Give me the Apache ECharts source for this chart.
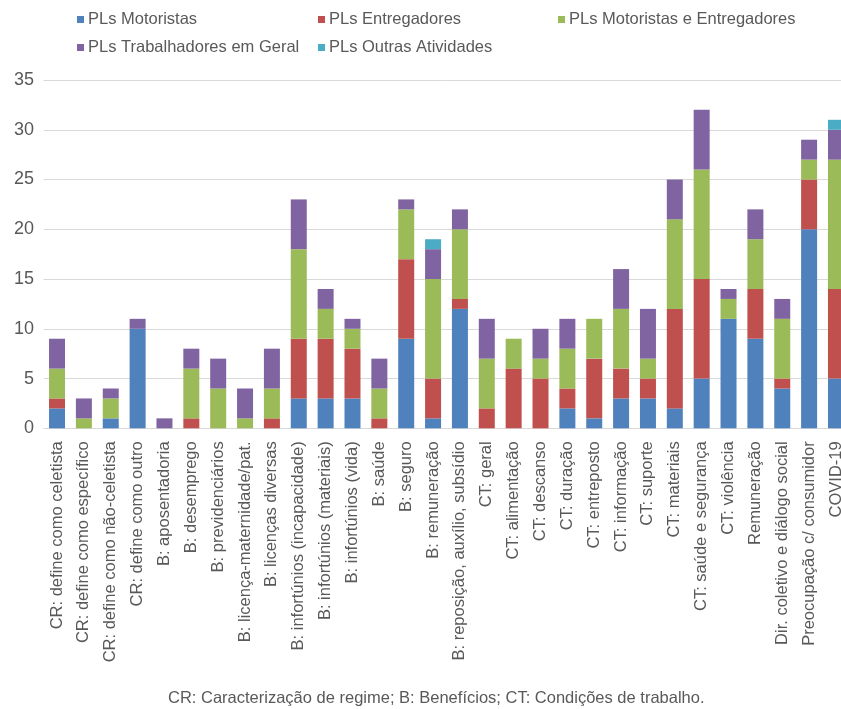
<!DOCTYPE html>
<html>
<head>
<meta charset="utf-8">
<script src="https://cdn.jsdelivr.net/npm/echarts@6/dist/echarts.min.js"></script>
<style>
html,body{margin:0;padding:0;background:#fff;}
#c{width:841px;height:709px;}
</style>
</head>
<body>
<div id="c"></div>
<script>
const categories = [
  "CR: define como celetista","CR: define como específico","CR: define como não-celetista","CR: define como outro",
  "B: aposentadoria","B: desemprego","B: previdenciários","B: licença-maternidade/pat.","B: licenças diversas",
  "B: infortúnios (incapacidade)","B: infortúnios (materiais)","B: infortúnios (vida)","B: saúde","B: seguro",
  "B: remuneração","B: reposição, auxílio, subsídio","CT: geral","CT: alimentação","CT: descanso","CT: duração",
  "CT: entreposto","CT: informação","CT: suporte","CT: materiais","CT: saúde e segurança","CT: violência",
  "Remuneração","Dir. coletivo e diálogo social","Preocupação c/ consumidor","COVID-19"
];
const motoristas   = [2,0,1,10,0,0,0,0,0,3,3,3,0,9,1,12,0,0,0,2,1,3,3,2,5,11,9,4,20,5];
const entregadores = [1,0,0,0,0,1,0,0,1,6,6,5,1,8,4,1,2,6,5,2,6,3,2,10,10,0,5,1,5,9];
const motEntreg    = [3,1,2,0,0,5,4,1,3,9,3,2,3,5,10,7,5,3,2,4,4,6,2,9,11,2,5,6,2,13];
const trabGeral    = [3,2,1,1,1,2,3,3,4,5,2,1,3,1,3,2,4,0,3,3,0,4,5,4,6,1,3,2,2,3];
const outras       = [0,0,0,0,0,0,0,0,0,0,0,0,0,0,1,0,0,0,0,0,0,0,0,0,0,0,0,0,0,1];
const seriesNames = ["PLs Motoristas","PLs Entregadores","PLs Motoristas e Entregadores","PLs Trabalhadores em Geral","PLs Outras Atividades"];
const seriesData = [motoristas, entregadores, motEntreg, trabGeral, outras];
const colors = ["#4F81BD","#C0504D","#9BBB59","#8064A2","#4BACC6"];
const yTicks = [0,5,10,15,20,25,30,35];
const caption = "CR: Caracterização de regime; B: Benefícios; CT: Condições de trabalho.";

const legendPos = [[77,11],[318,11],[558,11],[77,39],[318,39]];
const chart = echarts.init(document.getElementById('c'));
chart.setOption({
  animation:false,
  color: colors,
  title:{text:caption,left:163,top:685,
    textStyle:{fontFamily:'Liberation Sans, Arial',fontSize:16.5,fontWeight:'normal',color:'#595959'}},
  legend: seriesNames.map((n,i)=>({
    data:[n], left:legendPos[i][0], top:legendPos[i][1], icon:'rect', itemWidth:7, itemHeight:7,
    itemGap:0, padding:0, selectedMode:false,
    textStyle:{fontFamily:'Liberation Sans, Arial',fontSize:16.5,color:'#595959',padding:[0,0,0,-1]}
  })),
  grid:{left:43.6,top:80,right:-8.4,bottom:280.7,containLabel:false,outerBoundsMode:'none'},
  xAxis:{type:'category',data:categories,
    axisLine:{lineStyle:{color:'#d9d9d9',width:1}},axisTick:{show:false},
    axisLabel:{rotate:90,interval:0,margin:13,fontFamily:'Liberation Sans, Arial',fontSize:16.5,color:'#595959'}},
  yAxis:{type:'value',min:yTicks[0],max:yTicks[yTicks.length-1],interval:5,
    axisLine:{show:false},axisTick:{show:false},
    splitLine:{lineStyle:{color:'#d9d9d9',width:1}},
    axisLabel:{margin:9.6,fontFamily:'Liberation Sans, Arial',fontSize:18,color:'#595959'}},
  series: seriesNames.map((n,i)=>({
    name:n,type:'bar',stack:'total',barWidth:16,
    data:seriesData[i].map(v=>v===0?null:v),
    itemStyle:{color:colors[i]}
  }))
});
</script>
</body>
</html>
